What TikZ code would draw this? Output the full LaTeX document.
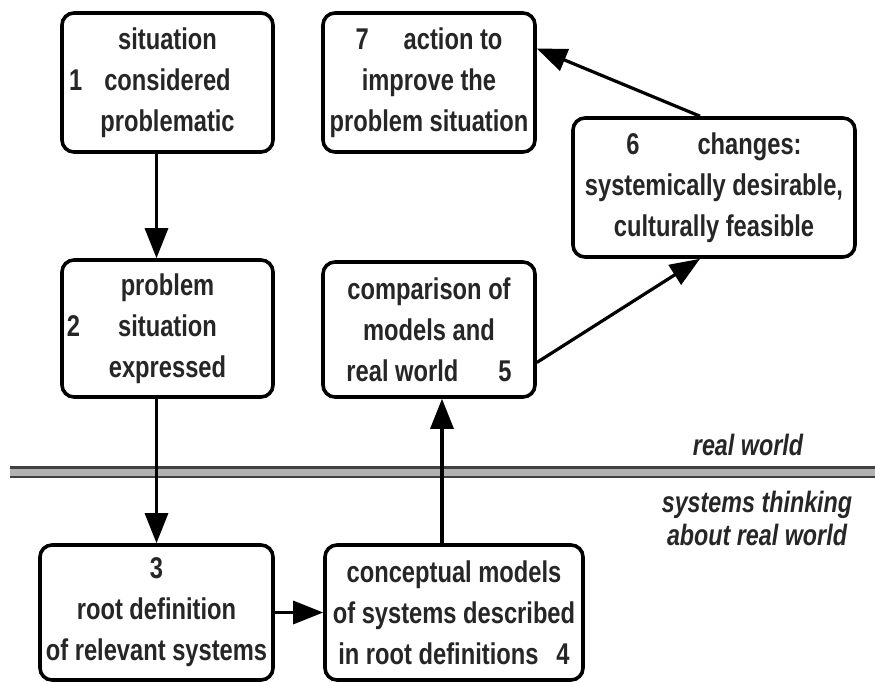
\documentclass[tikz,border=0pt]{standalone}
\usepackage{fontspec}
\setmainfont{Liberation Sans}[FakeStretch=0.79]
\usetikzlibrary{arrows.meta}
\begin{document}
\begin{tikzpicture}[x=1pt,y=-1pt,
  box/.style={draw=black, line width=3.6pt, rounded corners=12pt, fill=white, inner sep=0pt, align=center,
    font=\fontsize{30}{41}\selectfont\bfseries, text=black!85},
  flow/.style={line width=3.2pt, -{Triangle[length=30pt,width=23pt]}, draw=black},
  lbl/.style={font=\fontsize{29.5}{33}\selectfont\bfseries\itshape, text=black!85, align=center, inner sep=0pt},
  sep/.style={draw=gray!50!black, line width=2.5pt, double=gray!60, double distance=7pt}]
\useasboundingbox (0,0) rectangle (875,682);
\node[box, minimum width=211pt, minimum height=139pt] (b1) at (167.5,82.5)
  {situation\\\leavevmode\llap{1\hspace{22pt}}considered\\problematic};
\node[box, minimum width=211pt, minimum height=137pt] (b2) at (167.5,328.5)
  {problem\\\leavevmode\llap{2\hspace{38pt}}situation\\expressed};
\node[box, minimum width=233pt, minimum height=135pt] (b3) at (156.5,612.5)
  {3\\root definition\\of relevant systems};
\node[box, minimum width=258pt, minimum height=135pt] (b4) at (454,612.5)
  {conceptual models\\of systems described\\in root definitions\hspace{18pt}4};
\node[box, minimum width=212pt, minimum height=135pt] (b5) at (429,329.5)
  {comparison of\\models and\\real world\hspace{40pt}5};
\node[box, minimum width=282pt, minimum height=139pt] (b6) at (714,187.5)
  {6\hspace{58pt}changes:\\systemically desirable,\\culturally feasible};
\node[box, minimum width=212pt, minimum height=139pt] (b7) at (429,82.5)
  {7\hspace{35pt}action to\\improve the\\problem situation};
\coordinate (L) at (10,472);
\coordinate (R) at (875,472);
\draw[sep] (L) -- (R);
\node[lbl] (rw) at (748,445) {real world};
\node[lbl] (st) at (757,518) {systems thinking\\about real world};
\coordinate (x45) at (442,0);
\draw[flow] (b1.south -| b3.north) -- (b2.north -| b3.north);
\draw[flow] (b2.south -| b3.north) -- (b3.north);
\draw[flow] (b3.east) -- (b4.west);
\draw[flow] (b4.north -| x45) -- (b5.south -| x45);
\draw[flow] ([yshift=-33pt]b5.east) -- ([xshift=-14pt]b6.south);
\draw[flow] ([xshift=-14pt]b6.north) -- ([yshift=34pt]b7.east);
\end{tikzpicture}
\end{document}
